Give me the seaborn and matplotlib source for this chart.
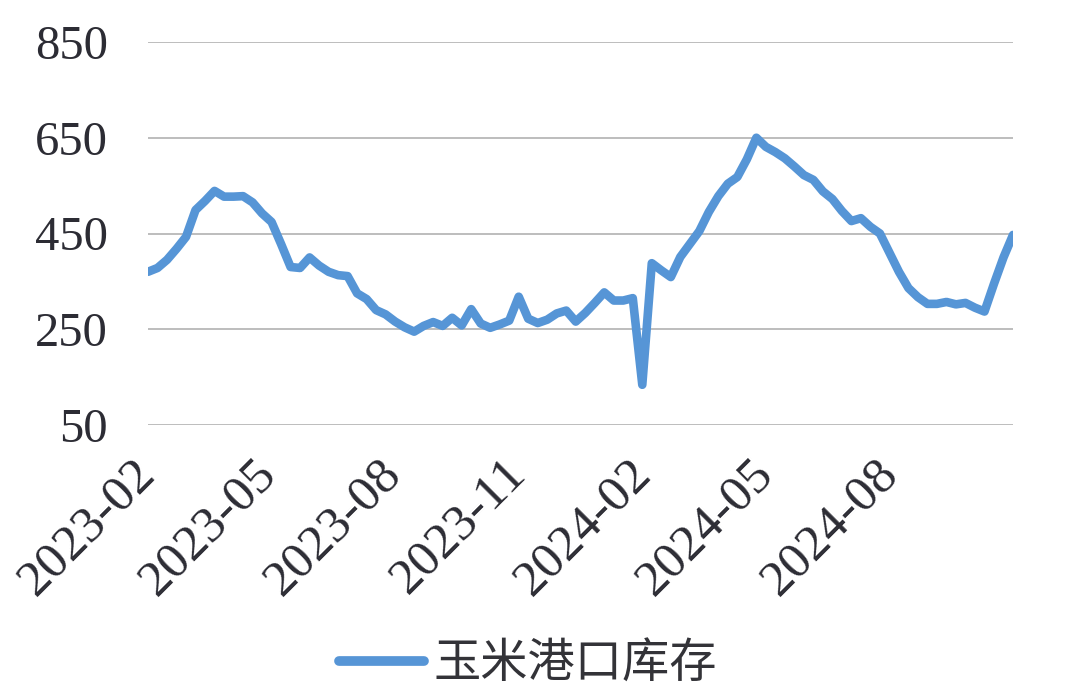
import matplotlib
matplotlib.use("Agg")
import matplotlib.pyplot as plt
import matplotlib.transforms as mtransforms
import seaborn as sns
import pandas as pd
import numpy as np

# ---- data ----
start_date = "2023-02-03"
n_weeks = 92
inventory = [
    370, 378, 395, 418, 443, 499, 518, 539, 527, 527,
    528, 515, 492, 474, 428, 380, 378, 400, 383, 370,
    363, 361, 325, 313, 290, 281, 266, 254, 245, 257,
    265, 257, 274, 258, 292, 262, 253, 260, 268, 318,
    272, 263, 270, 283, 289, 266, 284, 305, 327, 310,
    310, 315, 134, 388, 373, 359, 401, 428, 455, 495,
    528, 554, 568, 605, 650, 631, 620, 607, 590, 572,
    562, 538, 522, 497, 476, 482, 464, 450, 410, 370,
    336, 317, 303, 303, 307, 302, 305, 295, 287, 345,
    400, 447,
]
tick_labels = ["2023-02", "2023-05", "2023-08", "2023-11", "2024-02", "2024-05", "2024-08"]
y_ticks = [50, 250, 450, 650, 850]
series_name = "玉米港口库存"

dates = pd.date_range(start_date, periods=n_weeks, freq="7D")
df = pd.DataFrame({"date": dates, "value": inventory, "series": series_name})
tick_pos = pd.date_range(start_date, periods=len(tick_labels), freq=pd.DateOffset(months=3))

# ---- style ----
sns.set_style("white")
plt.rcParams["font.family"] = ["Liberation Serif", "DejaVu Serif"]

line_color = "#5695D6"
text_color = "#2c2c34"

fig = plt.figure(figsize=(10.74, 6.96), dpi=100)
ax = fig.add_axes([148 / 1074, 1 - 425 / 696, (1013 - 148) / 1074, (425 - 42) / 696])

sns.lineplot(data=df, x="date", y="value", ax=ax, color=line_color,
             linewidth=6.2, legend=False, solid_joinstyle="round", solid_capstyle="round")

ax.set_xlim(dates[0], dates[-1])
ax.set_ylim(50, 850)
ax.set_yticks(y_ticks)
ax.set_yticklabels([str(v) for v in y_ticks], fontsize=35, color=text_color)
ax.set_xticks(tick_pos)
ax.set_xticklabels(tick_labels, rotation=45, ha="right", rotation_mode="anchor",
                   fontsize=37, color=text_color)
ax.tick_params(axis="y", length=0, pad=29)
ax.tick_params(axis="x", length=0, pad=18)
offset = mtransforms.ScaledTranslation(-16 / 100, 0, fig.dpi_scale_trans)
for lbl in ax.get_xticklabels():
    lbl.set_transform(lbl.get_transform() + offset)
ax.set_xlabel("")
ax.set_ylabel("")
ax.grid(axis="y", color="#b8b8b8", linewidth=1.3)
ax.grid(axis="x", visible=False)
for s in ax.spines.values():
    s.set_visible(False)

handle = matplotlib.lines.Line2D([], [], color=line_color, linewidth=7, solid_capstyle="round")
leg = fig.legend([handle], [series_name], loc="center",
                 bbox_to_anchor=(528 / 1074, 1 - 664 / 696), frameon=False,
                 prop={"family": ["Noto Sans CJK SC", "DejaVu Sans"], "size": 34, "weight": "light"},
                 handlelength=1.8, handletextpad=0.2, borderaxespad=0)
for t in leg.get_texts():
    t.set_color("#333338")

fig.savefig("out.png", dpi=100, facecolor="white")
